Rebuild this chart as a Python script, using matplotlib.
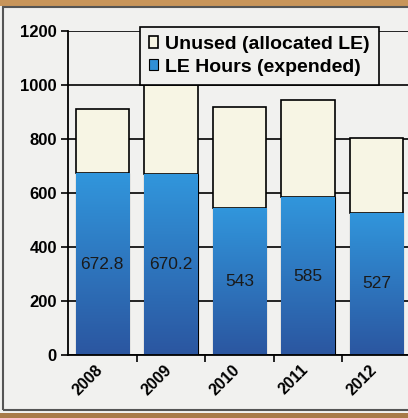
import numpy as np
import matplotlib.pyplot as plt
import matplotlib.transforms as mtransforms
from matplotlib.colors import LinearSegmentedColormap
from matplotlib.patches import Rectangle

years = ['2008', '2009', '2010', '2011', '2012']
expended = [672.8, 670.2, 543, 585, 527]
allocated = [913, 1000, 918, 944, 804]
labels = ['672.8', '670.2', '543', '585', '527']
unused = [a - e for a, e in zip(allocated, expended)]

BG = '#f1f1ef'
CREAM = '#f7f5e4'
blues = LinearSegmentedColormap.from_list('b', ['#2b56a0', '#3196dc'])

plt.rcParams['font.family'] = ['Liberation Sans', 'DejaVu Sans']
fig = plt.figure(figsize=(4.08, 4.18), dpi=100, facecolor=BG)

# scan frame: brown strips top/bottom, gray border line
fig.patches.append(Rectangle((0, 0.985), 1, 0.015, transform=fig.transFigure,
                             facecolor='#c8955a', edgecolor='none', zorder=0))
fig.patches.append(Rectangle((0, 0), 1, 0.013, transform=fig.transFigure,
                             facecolor='#a87a48', edgecolor='none', zorder=0))
fig.patches.append(Rectangle((0.008, 0.02), 1.2, 0.963, transform=fig.transFigure,
                             facecolor='none', edgecolor='#555555', linewidth=1.5, zorder=1))

ax = fig.add_axes([0.1667, 0.1507, 0.84, 0.775])
ax.set_facecolor(BG)
x = np.arange(len(years))
w = 0.78

ax.set_axisbelow(True)
ax.yaxis.grid(True, color='black', linewidth=1.2)

blue = ax.bar(x, expended, w, color='#2f78c4', edgecolor='black', linewidth=0.8,
              label='LE Hours (expended)', zorder=2)
ax.bar(x, unused, w, bottom=expended, color=CREAM, edgecolor='black', linewidth=1.2,
       label='Unused (allocated LE)', zorder=2)

grad = np.linspace(0, 1, 256).reshape(-1, 1)
for rect, val in zip(blue, expended):
    im = ax.imshow(grad, cmap=blues, origin='lower', aspect='auto', zorder=2.5,
                   extent=[rect.get_x(), rect.get_x() + w, 0, val])
    im.set_clip_path(rect)

for xi, val, txt in zip(x, expended, labels):
    ax.text(xi, val / 2, txt, ha='center', va='center', fontsize=12.5,
            color='#1a1a1a', zorder=4)

ax.set_xlim(-0.5, len(years) - 0.5)
ax.set_ylim(0, 1200)
ax.set_yticks(range(0, 1201, 200))
ax.tick_params(axis='y', labelsize=12, length=5, width=1.2, pad=3)
for t in ax.get_yticklabels():
    t.set_fontweight('bold')

ax.set_xticks(x)
ax.set_xticklabels(years, rotation=45, fontsize=11.5, fontweight='bold',
                   ha='right', va='top', rotation_mode='anchor')
ax.tick_params(axis='x', length=0, pad=5)
shift = mtransforms.ScaledTranslation(-7 / 100, 0, fig.dpi_scale_trans)
for t in ax.get_xticklabels():
    t.set_transform(t.get_transform() + shift)
ax.set_xticks(np.arange(len(years)) + 0.5, minor=True)
ax.tick_params(axis='x', which='minor', length=5, width=1.2)

for s in ['top', 'right']:
    ax.spines[s].set_visible(False)
ax.spines['left'].set_linewidth(1.3)
ax.spines['bottom'].set_linewidth(1.3)

h, l = ax.get_legend_handles_labels()
leg = ax.legend(h[::-1], l[::-1], loc='upper left', bbox_to_anchor=(0.21, 1.012),
                prop={'weight': 'bold', 'size': 14}, frameon=True,
                fancybox=False, edgecolor='black', facecolor=BG, framealpha=1,
                handlelength=0.5, handleheight=0.5, handletextpad=0.35,
                borderpad=0.45, labelspacing=0.3, borderaxespad=0)
leg.get_frame().set_linewidth(1.2)
leg.set_zorder(5)
leg.legend_handles[1].set_facecolor('#2f8fd6')

fig.savefig('out.png', dpi=100, facecolor=BG)
